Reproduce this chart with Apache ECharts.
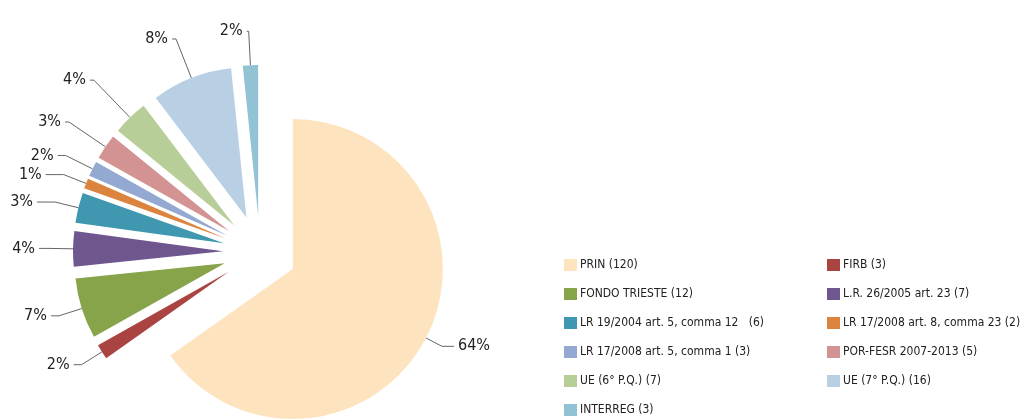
<!DOCTYPE html>
<html>
<head>
<meta charset="utf-8">
<title>Progetti per fonte di finanziamento</title>
<script src="https://cdn.jsdelivr.net/npm/echarts@6/dist/echarts.min.js"></script>
<style>
  html, body { margin: 0; padding: 0; background: #ffffff; }
  #chart { width: 1024px; height: 420px; }
</style>
</head>
<body>
<div id="chart"></div>
<script>
// Funding sources and number of projects for each
const categories = [
  'PRIN',
  'FIRB',
  'FONDO TRIESTE',
  'L.R. 26/2005 art. 23',
  'LR 19/2004 art. 5, comma 12  ',
  'LR 17/2008 art. 8, comma 23',
  'LR 17/2008 art. 5, comma 1',
  'POR-FESR 2007-2013',
  'UE (6° P.Q.)',
  'UE (7° P.Q.)',
  'INTERREG'
];
const projectCounts = [120, 3, 12, 7, 6, 2, 3, 5, 7, 16, 3];
// Share labels printed beside each slice
const shareLabels = ['64%', '2%', '7%', '4%', '3%', '1%', '2%', '3%', '4%', '8%', '2%'];
const sliceColors = [
  '#FDE3BE', '#A94442', '#87A44B', '#6F568F', '#3F98AF', '#DC843D',
  '#93A9D1', '#D39393', '#B8CE98', '#B9D0E4', '#92C3D5'
];
// Leader lines per slice: radial segment, then horizontal segment
const leaderLengths = [18, 24, 24, 24, 24, 24, 30, 44, 52, 42, 34];
const leaderTails = [12, 8, 8, 10, 18, 18, 8, 4, 4, 4, 2];

const FONT = '"DejaVu Sans Condensed", "DejaVu Sans", sans-serif';

const chart = echarts.init(document.getElementById('chart'), null, { renderer: 'canvas' });

const pieData = categories.map((name, i) => ({
  name: name,
  value: projectCounts[i],
  selected: true,
  itemStyle: { color: sliceColors[i] },
  labelLine: { length: leaderLengths[i], length2: leaderTails[i] }
}));

// Legend laid out in two columns: even entries left, odd entries right
const leftNames = categories.filter((_, i) => i % 2 === 0);
const rightNames = categories.filter((_, i) => i % 2 === 1);

function legendText(name) {
  const i = categories.indexOf(name);
  return name + ' (' + projectCounts[i] + ')';
}

const legendBase = {
  orient: 'vertical',
  top: 257,
  padding: 0,
  itemWidth: 13,
  itemHeight: 12,
  itemGap: 13,
  icon: 'rect',
  selectedMode: false,
  formatter: legendText,
  textStyle: {
    fontFamily: FONT, fontSize: 12,
    color: '#222', lineHeight: 16, padding: [0, 0, 0, -2]
  }
};

chart.setOption({
  animation: false,
  backgroundColor: '#ffffff',
  legend: [
    Object.assign({}, legendBase, { left: 564, data: leftNames }),
    Object.assign({}, legendBase, { left: 827, data: rightNames })
  ],
  series: [{
    type: 'pie',
    center: [260, 252],
    radius: 150,
    startAngle: 90,
    clockwise: true,
    selectedMode: 'multiple',
    selectedOffset: 37,
    avoidLabelOverlap: false,
    data: pieData,
    itemStyle: { borderWidth: 0 },
    select: { itemStyle: { borderWidth: 0 } },
    emphasis: { disabled: true },
    label: {
      show: true,
      position: 'outside',
      formatter: p => shareLabels[p.dataIndex],
      fontFamily: FONT,
      fontSize: 16,
      color: '#222',
      distanceToLabelLine: 4
    },
    labelLine: {
      show: true,
      smooth: false,
      lineStyle: { color: '#666', width: 1 }
    }
  }]
});
</script>
</body>
</html>
